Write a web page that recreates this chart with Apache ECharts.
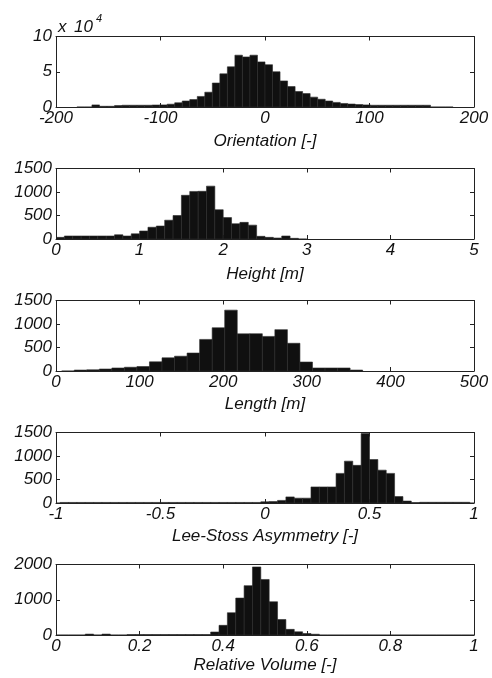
<!DOCTYPE html>
<html>
<head>
<meta charset="utf-8">
<script src="https://cdn.jsdelivr.net/npm/echarts@6/dist/echarts.min.js"></script>
<style>
  html, body { margin: 0; padding: 0; background: #ffffff; }
  #chart { width: 492px; height: 678px; }
</style>
</head>
<body>
<div id="chart"></div>
<script>
// Histogram counts per bin, with each histogram's first bin edge and bin width.
const orientationStart = -180;
const orientationWidth = 7.2;
const orientationCounts = [
  0, 0, 3000, 1000, 1000, 2000, 2500, 2500, 2500, 2500,
  2800, 3000, 4000, 6000, 8500, 10500, 15000, 21000, 34000, 47000,
  57000, 73500, 71000, 73500, 64000, 60000, 50000, 37000, 29000, 22000,
  19000, 14000, 11000, 8500, 6500, 5000, 4200, 3500, 3000, 2500,
  2500, 2500, 2500, 2500, 2500, 2500, 2500, 0, 0, 0
];

const heightStart = 0;
const heightWidth = 0.1;
const heightCounts = [
  35, 64, 64, 64, 64, 64, 64, 90, 64, 110,
  170, 250, 276, 400, 500, 930, 1012, 1015, 1125, 623,
  455, 325, 354, 295, 57, 35, 21, 64, 14, 0
];

const lengthStart = 6.8;
const lengthWidth = 15;
const lengthCounts = [
  0, 20, 25, 42, 64, 80, 95, 195, 280, 315,
  382, 672, 920, 1295, 790, 793, 736, 880, 590, 191,
  64, 64, 64, 20
];

const asymmetryStart = -1.02;
const asymmetryWidth = 0.04;
const asymmetryCounts = [
  0, 12, 12, 12, 12, 12, 12, 12, 12, 12,
  12, 12, 12, 12, 12, 12, 12, 12, 12, 12,
  12, 12, 12, 12, 12, 25, 30, 55, 130, 103,
  103, 342, 342, 342, 630, 890, 801, 1480, 925, 699,
  630, 137, 41, 8, 15, 15, 15, 15, 15, 15, 0
];

const volumeStart = -0.01;
const volumeWidth = 0.02;
const volumeCounts = [
  0, 0, 0, 0, 25, 0, 25, 0, 0, 12,
  12, 12, 12, 12, 12, 12, 12, 12, 12, 85,
  274, 632, 1047, 1400, 1930, 1575, 943, 440, 160, 90,
  42, 22, 0, 0, 0, 0, 0, 0, 0, 0,
  0, 0, 0, 0, 0, 0, 0, 0, 0, 0, 0
];

// Axis ranges and titles.
const axisTitles = ['Orientation [-]', 'Height [m]', 'Length [m]', 'Lee-Stoss Asymmetry [-]', 'Relative Volume [-]'];
const xRanges = [[-200, 200, 100], [0, 5, 1], [0, 500, 100], [-1, 1, 0.5], [0, 1, 0.2]];
const yRanges = [[0, 100000, 50000], [0, 1500, 500], [0, 1500, 500], [0, 1500, 500], [0, 2000, 1000]];
const yScale = [10000, 1, 1, 1, 1];

function bins(start, width, counts) {
  return counts.map((c, i) => [start + i * width, start + (i + 1) * width, c]);
}

const histograms = [
  bins(orientationStart, orientationWidth, orientationCounts),
  bins(heightStart, heightWidth, heightCounts),
  bins(lengthStart, lengthWidth, lengthCounts),
  bins(asymmetryStart, asymmetryWidth, asymmetryCounts),
  bins(volumeStart, volumeWidth, volumeCounts)
];

const FONT = '"Liberation Sans", Arial, sans-serif';
const INK = '#111111';
const labelStyle = { color: INK, fontFamily: FONT, fontStyle: 'italic', fontSize: 17 };
const nameGaps = [26, 27, 25, 25, 22];

const grids = [], xAxes = [], yAxes = [], series = [];

histograms.forEach((data, i) => {
  grids.push({ left: 56, right: 18, top: 36.5 + 132 * i, height: 70.5, containLabel: false });
  const [xmin, xmax, xint] = xRanges[i];
  const [ymin, ymax, yint] = yRanges[i];
  const lineStyle = { color: '#222', width: 1 };
  // bottom axis with labels and title
  xAxes.push({
    type: 'value', gridIndex: i, min: xmin, max: xmax, interval: xint, position: 'bottom',
    axisLine: { show: true, onZero: false, lineStyle },
    axisTick: { show: true, inside: true, length: 4, lineStyle },
    splitLine: { show: false },
    axisLabel: Object.assign({ margin: 3, showMinLabel: true, showMaxLabel: true }, labelStyle),
    name: axisTitles[i], nameLocation: 'middle', nameGap: nameGaps[i],
    nameTextStyle: Object.assign({}, labelStyle)
  });
  // top edge of the box
  xAxes.push({
    type: 'value', gridIndex: i, min: xmin, max: xmax, interval: xint, position: 'top',
    axisLine: { show: true, onZero: false, lineStyle },
    axisTick: { show: true, inside: true, length: 4, lineStyle },
    splitLine: { show: false }, axisLabel: { show: false }
  });
  // left axis with labels
  yAxes.push({
    type: 'value', gridIndex: i, min: ymin, max: ymax, interval: yint, position: 'left',
    axisLine: { show: true, onZero: false, lineStyle },
    axisTick: { show: true, inside: true, length: 4, lineStyle },
    splitLine: { show: false },
    axisLabel: Object.assign({ margin: 4, formatter: v => String(v / yScale[i]) }, labelStyle)
  });
  // right edge of the box
  yAxes.push({
    type: 'value', gridIndex: i, min: ymin, max: ymax, interval: yint, position: 'right',
    axisLine: { show: true, onZero: false, lineStyle },
    axisTick: { show: true, inside: true, length: 4, lineStyle },
    splitLine: { show: false }, axisLabel: { show: false }
  });
  series.push({
    type: 'custom', xAxisIndex: 2 * i, yAxisIndex: 2 * i, clip: true,
    data: data,
    renderItem: function (params, api) {
      const top = api.coord([api.value(0), api.value(2)]);
      const base = api.coord([api.value(1), 0]);
      return {
        type: 'rect',
        shape: { x: top[0], y: top[1], width: base[0] - top[0], height: base[1] - top[1] },
        style: { fill: '#101010', stroke: '#2c2c2c', lineWidth: 0.6 }
      };
    }
  });
});

const chart = echarts.init(document.getElementById('chart'), null, { renderer: 'canvas' });
chart.setOption({
  backgroundColor: '#ffffff',
  animation: false,
  grid: grids,
  xAxis: xAxes,
  yAxis: yAxes,
  series: series,
  // exponent note for the orientation counts
  graphic: [
    { type: 'text', left: 58, top: 19, style: { text: 'x', fill: INK, font: 'italic 17px ' + FONT } },
    { type: 'text', left: 74, top: 19, style: { text: '10', fill: INK, font: 'italic 17px ' + FONT } },
    { type: 'text', left: 96, top: 13, style: { text: '4', fill: INK, font: 'italic 11px ' + FONT } }
  ]
});
</script>
</body>
</html>
